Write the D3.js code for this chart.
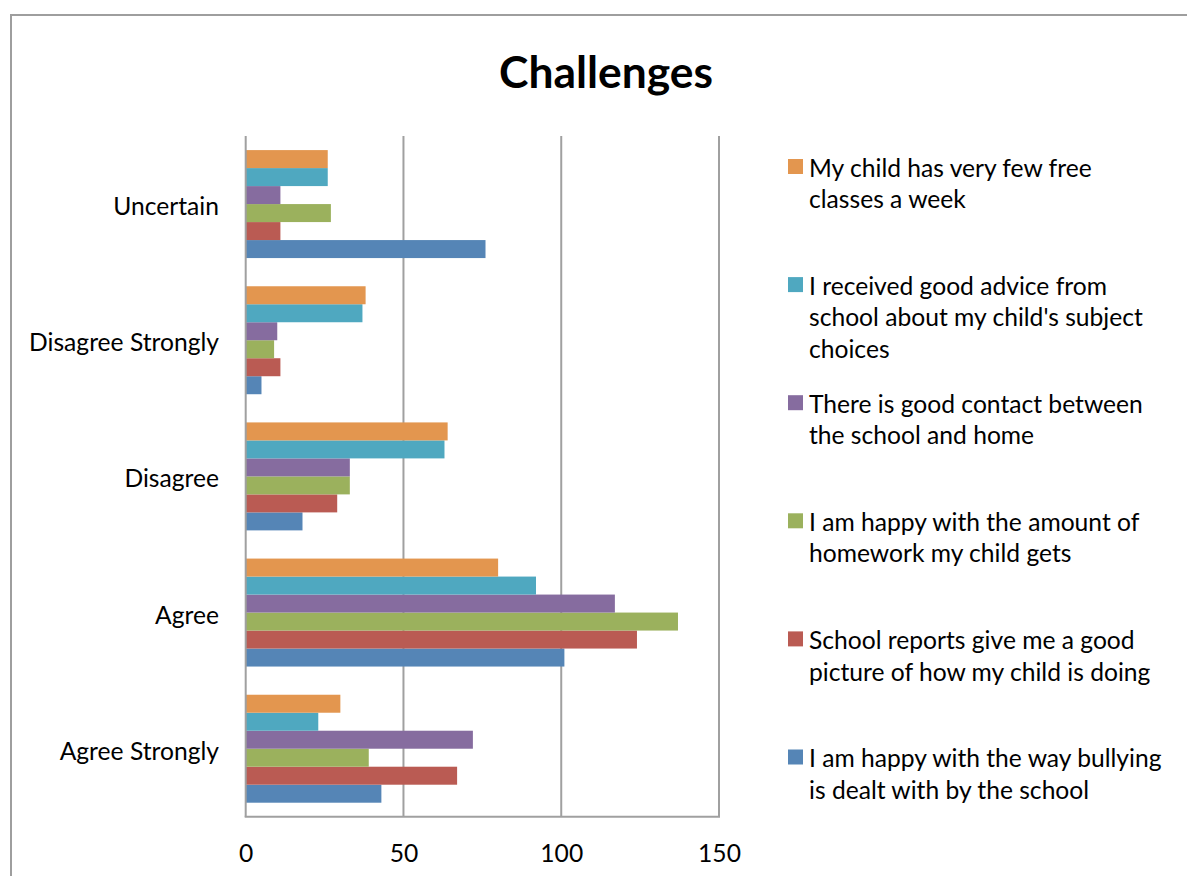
<!DOCTYPE html>
<html>
<head>
<meta charset="utf-8">
<script src="https://cdn.jsdelivr.net/npm/d3@7"></script>
<style>
  html, body { margin: 0; padding: 0; background: #fff; }
  svg { display: block; }
  text { font-family: Lato, "Open Sans", "DejaVu Sans", sans-serif; fill: #000; }
</style>
</head>
<body>
<svg id="chart" width="1187" height="876"></svg>
<script>
// ---- data ----
const title = "Challenges";
const categories = ["Uncertain", "Disagree Strongly", "Disagree", "Agree", "Agree Strongly"];
const seriesNames = [
  "I am happy with the way bullying is dealt with by the school",
  "School reports give me a good picture of how my child is doing",
  "I am happy with the amount of homework my child gets",
  "There is good contact between the school and home",
  "I received good advice from school about my child's subject choices",
  "My child has very few free classes a week"
];
const legendLines = [
  ["I am happy with the way bullying", "is dealt with by the school"],
  ["School reports give me a good", "picture of how my child is doing"],
  ["I am happy with the amount of", "homework my child gets"],
  ["There is good contact between", "the school and home"],
  ["I received good advice from", "school about my child's subject", "choices"],
  ["My child has very few free", "classes a week"]
];
// values per series, in the order of categories
const bullying  = [76, 5, 18, 101, 43];
const reports   = [11, 11, 29, 124, 67];
const homework  = [27, 9, 33, 137, 39];
const contact   = [11, 10, 33, 117, 72];
const advice    = [26, 37, 63, 92, 23];
const freeClass = [26, 38, 64, 80, 30];
const seriesValues = [bullying, reports, homework, contact, advice, freeClass];
const seriesColors = ["#5585B6", "#BA5B53", "#9BB15D", "#866C9F", "#4FA8C0", "#E3964F"];
const xTicks = [0, 50, 100, 150];

// ---- layout ----
const svg = d3.select("#chart");
const plot = { left: 245.7, right: 719, top: 136, bottom: 816.8 };

function fitSize(text, target, weight) {
  const t = svg.append("text").attr("font-size", 100).attr("font-weight", weight || "normal").text(text);
  const w = t.node().getComputedTextLength();
  t.remove();
  return 100 * target / w;
}
const fs = (fitSize("I am happy with the way bullying", 356) + fitSize("My child has very few free", 283) + fitSize("Disagree Strongly", 188)) / 3;
const titleFs = fitSize(title, 214, "bold");

// outer border
svg.append("path")
  .attr("d", "M11,880 L11,15 L1190,15")
  .attr("fill", "none").attr("stroke", "#9e9e9e").attr("stroke-width", 2);

// title
svg.append("text")
  .attr("x", 606).attr("y", 87.7)
  .attr("text-anchor", "middle")
  .attr("font-weight", "bold")
  .attr("font-size", titleFs)
  .text(title);

const x = d3.scaleLinear().domain([0, 150]).range([plot.left, plot.right]);
const y = d3.scaleBand().domain(categories).range([plot.top, plot.bottom])
  .paddingInner(0.207).paddingOuter(0.1035);
const order = d3.range(seriesNames.length).reverse(); // top = last series
const yInner = d3.scaleBand().domain(order).range([0, y.bandwidth()]);

// gridlines
svg.append("g").selectAll("line").data(xTicks.slice(1)).join("line")
  .attr("x1", d => x(d)).attr("x2", d => x(d))
  .attr("y1", plot.top).attr("y2", plot.bottom)
  .attr("stroke", "#a0a0a0").attr("stroke-width", 2);

// bars
const groups = svg.append("g").selectAll("g").data(seriesValues).join("g")
  .attr("fill", (d, i) => seriesColors[i]);
groups.each(function (vals, si) {
  d3.select(this).selectAll("rect").data(vals).join("rect")
    .attr("x", x(0))
    .attr("y", (v, ci) => y(categories[ci]) + yInner(si))
    .attr("width", v => x(v) - x(0))
    .attr("height", yInner.bandwidth());
});

// axes lines
svg.append("line").attr("x1", x(0)).attr("x2", x(0)).attr("y1", plot.top).attr("y2", plot.bottom)
  .attr("stroke", "#a0a0a0").attr("stroke-width", 2);
svg.append("line").attr("x1", x(0) - 1).attr("x2", plot.right + 1).attr("y1", plot.bottom).attr("y2", plot.bottom)
  .attr("stroke", "#a0a0a0").attr("stroke-width", 2);

// x tick labels
const xAxis = d3.axisBottom(x).tickValues(xTicks).tickSize(0).tickPadding(0);
const gx = svg.append("g").attr("transform", `translate(0,${plot.bottom})`).call(xAxis);
gx.select(".domain").remove();
gx.selectAll("text").attr("font-size", fs).attr("font-family", null)
  .attr("dy", null).attr("y", 861.7 - plot.bottom).attr("fill", "#000");

// y category labels
const yAxis = d3.axisLeft(y).tickSize(0).tickPadding(0);
const gy = svg.append("g").attr("transform", `translate(219,0)`).call(yAxis);
gy.select(".domain").remove();
gy.selectAll("text").attr("font-size", fs).attr("font-family", null)
  .attr("dy", null).attr("x", 0).attr("y", 11).attr("fill", "#000");

// legend (top = last series)
const legendTop = 159, legendStep = 118.1;
const lg = svg.append("g").selectAll("g").data(order).join("g")
  .attr("transform", (si, k) => `translate(788,${legendTop + k * legendStep})`);
lg.append("rect").attr("width", 15).attr("height", 15).attr("fill", si => seriesColors[si]);
lg.each(function (si) {
  const t = d3.select(this).append("text").attr("font-size", fs);
  legendLines[si].forEach((line, li) => {
    t.append("tspan").attr("x", 21).attr("y", 17.7 + li * 31.5).text(line);
  });
});
</script>
</body>
</html>
